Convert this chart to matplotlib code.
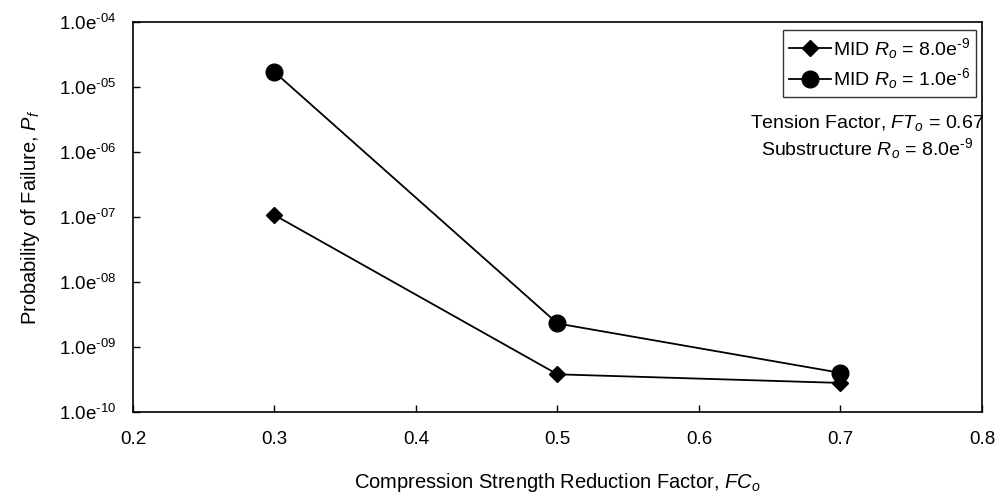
import math
import matplotlib
matplotlib.use("Agg")
import matplotlib.pyplot as plt
from matplotlib.ticker import FixedLocator, FuncFormatter

plt.rcParams['font.family'] = ['Liberation Sans', 'DejaVu Sans']
plt.rcParams['mathtext.fontset'] = 'custom'
plt.rcParams['mathtext.rm'] = 'Liberation Sans'
plt.rcParams['mathtext.it'] = 'Liberation Sans:italic'

fc = [0.3, 0.5, 0.7]
pf_r8e9 = [1.07e-7, 3.8e-10, 2.8e-10]
pf_r1e6 = [1.7e-5, 2.3e-9, 4.0e-10]
y_exps = [-4, -5, -6, -7, -8, -9, -10]
x_ticks = [0.2, 0.3, 0.4, 0.5, 0.6, 0.7, 0.8]

fig = plt.figure(figsize=(10, 4.98), dpi=100)
ax = fig.add_axes([0.133, 0.1727, 0.849, 0.783])

ax.plot(fc, pf_r8e9, color='black', lw=1.3, marker='D', ms=8,
        label='MID $R_o$ = 8.0e$^{\\text{-9}}$')
ax.plot(fc, pf_r1e6, color='black', lw=1.3, marker='o', ms=12,
        label='MID $R_o$ = 1.0e$^{\\text{-6}}$')

ax.set_yscale('log')
ax.set_ylim(1e-10, 1e-4)
ax.set_xlim(0.2, 0.8)
ax.yaxis.set_major_locator(FixedLocator([10.0**e for e in y_exps]))
ax.yaxis.set_minor_locator(FixedLocator([]))
ax.yaxis.set_major_formatter(FuncFormatter(
    lambda v, p: '1.0e$^{\\text{-%02d}}$' % round(-math.log10(v))))
ax.set_xticks(x_ticks)
ax.set_xticklabels([f'{t:.1f}' for t in x_ticks])
ax.tick_params(axis='both', direction='in', length=5, labelsize=13.5, width=1)
ax.tick_params(axis='x', pad=14)
ax.tick_params(axis='y', pad=12)

for s in ax.spines.values():
    s.set_linewidth(1.2)

ax.set_xlabel('Compression Strength Reduction Factor, $FC_o$', fontsize=14.5, labelpad=16)
ax.set_ylabel('Probability of Failure, $P_f$', fontsize=14.5, labelpad=12)

leg = ax.legend(loc='upper right', bbox_to_anchor=(0.9935, 0.98), fontsize=14,
                frameon=True, fancybox=False, edgecolor='black', handlelength=2.2,
                handletextpad=0.1, borderpad=0.3, labelspacing=0.3, borderaxespad=0)
leg.get_frame().set_linewidth(1.0)

ax.text(0.865, 0.742, 'Tension Factor, $FT_o$ = 0.67', transform=ax.transAxes,
        ha='center', va='center', fontsize=14)
ax.text(0.865, 0.676, 'Substructure $R_o$ = 8.0e$^{\\text{-9}}$', transform=ax.transAxes,
        ha='center', va='center', fontsize=14)

fig.savefig('out.png', dpi=100)
